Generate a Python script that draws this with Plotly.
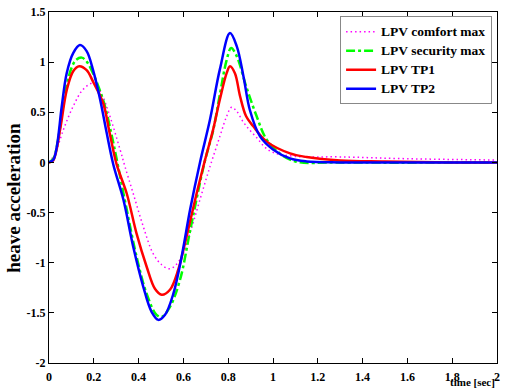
import plotly.graph_objects as go

# ---- data ----
t_comfort = [0, 0.027, 0.065, 0.108, 0.153, 0.198, 0.235, 0.272, 0.317, 0.339, 0.376, 0.421, 0.465,
             0.503, 0.54, 0.585, 0.63, 0.674, 0.719, 0.763, 0.793, 0.815, 0.838, 0.868, 0.897, 0.93,
             0.96, 1.0, 1.1, 1.3, 1.6, 2.0]
v_comfort = [0, 0.09, 0.33, 0.56, 0.73, 0.79, 0.68, 0.46, 0.13, -0.04, -0.31, -0.64, -0.91,
             -1.02, -1.06, -0.97, -0.70, -0.37, -0.04, 0.26, 0.46, 0.55, 0.51, 0.40, 0.32, 0.24,
             0.16, 0.10, 0.06, 0.055, 0.037, 0.024]

t_security = [0, 0.02, 0.04, 0.06, 0.08, 0.10, 0.12, 0.146, 0.17, 0.20, 0.225, 0.25, 0.279, 0.305,
              0.347, 0.391, 0.436, 0.48, 0.503, 0.54, 0.585, 0.63, 0.68, 0.70, 0.733, 0.763, 0.793,
              0.813, 0.838, 0.88, 0.927, 0.971, 1.03, 1.10, 1.3, 2.0]
v_security = [0, 0.04, 0.22, 0.52, 0.78, 0.94, 1.02, 1.045, 1.0, 0.87, 0.73, 0.56, 0.28, 0.0,
              -0.47, -0.94, -1.31, -1.52, -1.54, -1.44, -1.17, -0.68, -0.14, 0.05, 0.32, 0.68, 1.02,
              1.14, 1.06, 0.76, 0.46, 0.23, 0.09, 0.01, 0.0, 0.0]

t_tp1 = [0, 0.019, 0.049, 0.079, 0.108, 0.135, 0.168, 0.198, 0.242, 0.272, 0.302, 0.347, 0.391,
         0.436, 0.473, 0.503, 0.54, 0.577, 0.614, 0.659, 0.696, 0.733, 0.763, 0.793, 0.808, 0.83,
         0.853, 0.88, 0.912, 0.971, 1.076, 1.15, 1.3, 1.5, 1.8, 2.0]
v_tp1 = [0, 0.02, 0.32, 0.72, 0.91, 0.96, 0.92, 0.80, 0.59, 0.28, -0.02, -0.31, -0.71,
         -1.04, -1.26, -1.32, -1.27, -1.07, -0.74, -0.31, 0.02, 0.33, 0.63, 0.89, 0.96, 0.89,
         0.66, 0.46, 0.36, 0.21, 0.09, 0.054, 0.02, 0.01, 0.0, 0.0]

t_tp2 = [0, 0.02, 0.035, 0.057, 0.079, 0.108, 0.138, 0.168, 0.198, 0.228, 0.257, 0.287, 0.332,
         0.376, 0.421, 0.458, 0.488, 0.518, 0.555, 0.592, 0.63, 0.674, 0.719, 0.763, 0.808, 0.838,
         0.868, 0.897, 0.942, 1.0, 1.076, 1.15, 1.3, 1.6, 2.0]
v_tp2 = [0, 0.03, 0.16, 0.56, 0.89, 1.09, 1.17, 1.11, 0.91, 0.63, 0.30, -0.02, -0.37,
         -0.84, -1.24, -1.49, -1.57, -1.52, -1.31, -0.94, -0.47, 0.0, 0.43, 0.93, 1.29, 1.16,
         0.86, 0.52, 0.26, 0.13, 0.04, 0.01, 0.0, 0.0, 0.0]

series_names = ["LPV comfort max", "LPV security max", "LPV TP1", "LPV TP2"]

x_ticks = [0, 0.2, 0.4, 0.6, 0.8, 1.0, 1.2, 1.4, 1.6, 1.8, 2.0]
x_tick_labels = ["0", "0.2", "0.4", "0.6", "0.8", "1", "1.2", "1.4", "1.6", "1.8", "2"]
y_ticks = [-2, -1.5, -1, -0.5, 0, 0.5, 1, 1.5]
y_tick_labels = ["-2", "-1.5", "-1", "-0.5", "0", "0.5", "1", "1.5"]

FONT = "Liberation Serif, Times New Roman, serif"


def legend_label(s):
    return '<span style="font-size:13.5px">' + s + "</span>"


fig = go.Figure()
fig.add_trace(go.Scatter(x=t_comfort, y=v_comfort, mode="lines", name=legend_label(series_names[0]),
                         line=dict(color="#FF00FF", width=1.5, dash="1.5px,3px", shape="spline")))
fig.add_trace(go.Scatter(x=t_security, y=v_security, mode="lines", name=legend_label(series_names[1]),
                         line=dict(color="#00FF00", width=2.5, dash="dashdot", shape="spline")))
fig.add_trace(go.Scatter(x=t_tp1, y=v_tp1, mode="lines", name=legend_label(series_names[2]),
                         line=dict(color="#FF0000", width=2.5, shape="spline")))
fig.add_trace(go.Scatter(x=t_tp2, y=v_tp2, mode="lines", name=legend_label(series_names[3]),
                         line=dict(color="#0000FF", width=2.5, shape="spline")))

fig.update_layout(
    width=508, height=390,
    margin=dict(l=49, r=11, t=12, b=27, autoexpand=False),
    paper_bgcolor="white", plot_bgcolor="white",
    font=dict(family=FONT, size=12, color="black"),
    showlegend=True,
    legend=dict(x=0.989, y=0.988, xanchor="right", yanchor="top",
                bgcolor="white", bordercolor="#888888", borderwidth=1,
                font=dict(family=FONT, size=12, color="black", weight="bold"),
                itemwidth=30, tracegroupgap=0),
    xaxis=dict(range=[0, 2], tickvals=x_ticks, ticktext=x_tick_labels, automargin=False,
               showgrid=False, zeroline=False, showline=True, linecolor="black", linewidth=1,
               mirror="ticks", ticks="inside", ticklen=5, tickcolor="black",
               ticklabelstandoff=3,
               tickfont=dict(family=FONT, size=12, weight="bold")),
    yaxis=dict(range=[-2, 1.5], tickvals=y_ticks, ticktext=y_tick_labels, automargin=False,
               showgrid=False, zeroline=False, showline=True, linecolor="black", linewidth=1,
               mirror="ticks", ticks="inside", ticklen=5, tickcolor="black",
               tickfont=dict(family=FONT, size=12, weight="bold")),
    annotations=[
        dict(text="heave acceleration", xref="paper", yref="paper", x=-0.081, y=0.47,
             xanchor="center", yanchor="middle", textangle=-90, showarrow=False,
             font=dict(family=FONT, size=19, weight="bold")),
        dict(text="time [sec]", xref="paper", yref="paper", x=1.0, y=0, xanchor="right",
             yanchor="top", yshift=-11, showarrow=False,
             font=dict(family=FONT, size=11, weight="bold")),
    ],
)

fig.write_html("out.html", config={"displayModeBar": False},
               post_script="document.body.style.margin='0';")
